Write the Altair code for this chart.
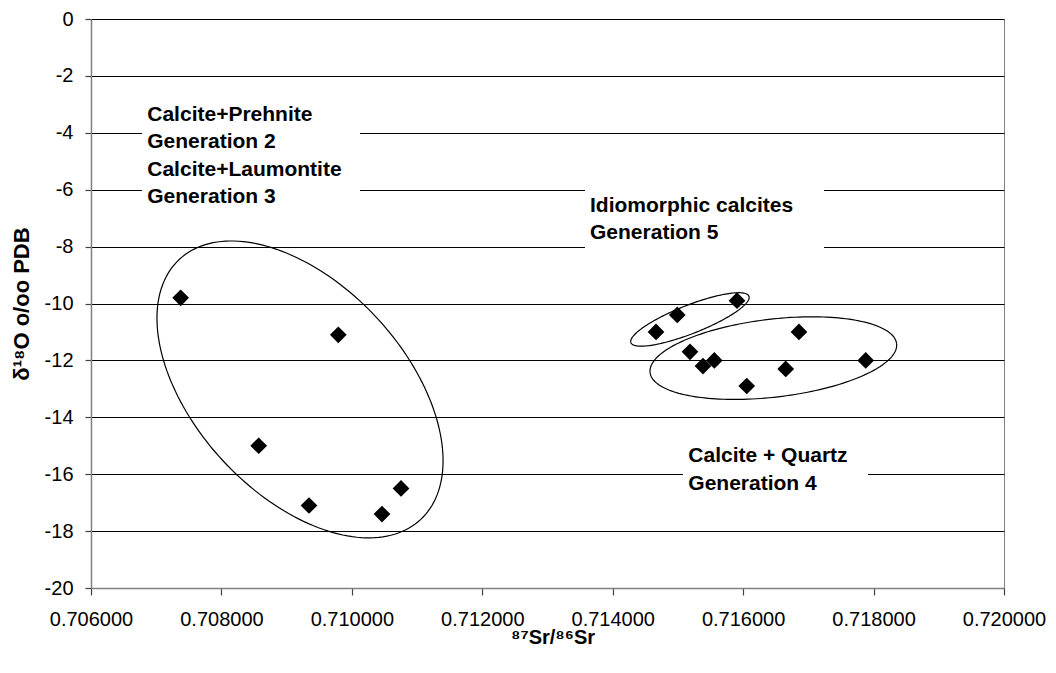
import altair as alt
import pandas as pd
import numpy as np

# ---- data ----
sr_ratio = [0.707375, 0.709792, 0.708572, 0.709343, 0.710462, 0.710754,
            0.714664, 0.714990, 0.715906,
            0.715185, 0.715384, 0.715558, 0.716055, 0.716653, 0.716856, 0.717879]
d18o = [-9.8, -11.1, -15.0, -17.1, -17.4, -16.5,
        -11.0, -10.4, -9.9,
        -11.7, -12.2, -12.0, -12.9, -12.3, -11.0, -12.0]

# annotation text lines (baselines in data units)
label_text = ["Calcite+Prehnite", "Generation 2", "Calcite+Laumontite", "Generation 3",
              "Idiomorphic calcites", "Generation 5",
              "Calcite + Quartz", "Generation 4"]
label_x = [0.706863] * 4 + [0.713652] * 2 + [0.715159] * 2
label_y = [-3.575, -4.545, -5.518, -6.478, -6.773, -7.743, -15.56, -16.56]

# white text-box backgrounds
box_x1 = [0.706782, 0.713575, 0.715078]
box_x2 = [0.710125, 0.717240, 0.717915]
box_y1 = [-2.85, -5.77, -14.80]
box_y2 = [-6.89, -8.19, -17.08]

# grouping ellipses: centre (data), semi-axes (px), tilt (deg)
ell_cx = [0.709205, 0.715184, 0.716463]
ell_cy = [-13.02, -10.56, -11.92]
ell_a = [177.4, 63.4, 124.1]
ell_b = [105.0, 14.2, 39.0]
ell_ang = [-47.2, 21.5, 6.67]

x_ticks = [0.706, 0.708, 0.710, 0.712, 0.714, 0.716, 0.718, 0.720]
y_ticks = [-20, -18, -16, -14, -12, -10, -8, -6, -4, -2, 0]

PLOT_W, PLOT_H = 913, 569
XMIN, XMAX, YMIN, YMAX = 0.706, 0.720, -20, 0

pts = pd.DataFrame({"x": sr_ratio, "y": d18o})
labels = pd.DataFrame({"x": label_x, "y": label_y, "text": label_text})
boxes = pd.DataFrame({"x": box_x1, "x2": box_x2, "y": box_y1, "y2": box_y2})

# ellipse outlines
px_x = PLOT_W / (XMAX - XMIN)
px_y = PLOT_H / (YMAX - YMIN)
rows = []
t = np.linspace(0, 2 * np.pi, 181)
for i in range(len(ell_cx)):
    th = np.radians(ell_ang[i])
    dx = ell_a[i] * np.cos(t) * np.cos(th) - ell_b[i] * np.sin(t) * np.sin(th)
    dy = ell_a[i] * np.cos(t) * np.sin(th) + ell_b[i] * np.sin(t) * np.cos(th)
    for k in range(len(t)):
        rows.append({"eid": i, "k": k, "x": ell_cx[i] + dx[k] / px_x, "y": ell_cy[i] + dy[k] / px_y})
ell = pd.DataFrame(rows)

FONT = "Liberation Sans"
xs = alt.Scale(domain=[XMIN, XMAX], nice=False, zero=False)
ys = alt.Scale(domain=[YMIN, YMAX], nice=False, zero=False)

x_axis = alt.Axis(values=x_ticks, format=".6f", grid=False, labelFont=FONT, labelFontSize=20,
                  labelColor="black", labelPadding=14, labelFlush=False, labelOverlap=False,
                  tickSize=7, tickColor="#404040", tickWidth=1.2,
                  domainColor="#808080", domainWidth=1.5,
                  title="⁸⁷Sr/⁸⁶Sr", titleFont=FONT, titleFontSize=20, titleFontWeight="bold",
                  titleColor="black", titleX=PLOT_W / 2 + 5, titleY=49,
                  titleAlign="center", titleBaseline="middle")
y_axis = alt.Axis(values=y_ticks, labelExpr="toString(datum.value)", grid=True,
                  gridColor="black", gridWidth=1, gridOpacity=1,
                  labelFont=FONT, labelFontSize=20, labelColor="black", labelPadding=12,
                  tickSize=6, tickColor="#404040", tickWidth=1.2,
                  domainColor="#808080", domainWidth=1.5,
                  title="δ¹⁸O o/oo PDB", titleFont=FONT, titleFontSize=22, titleFontWeight="bold",
                  titleColor="black", titleAngle=270, titleX=-70, titleY=PLOT_H / 2,
                  titleAlign="center", titleBaseline="middle")

X = lambda f="x": alt.X(f"{f}:Q", scale=xs, axis=x_axis)
Y = lambda f="y": alt.Y(f"{f}:Q", scale=ys, axis=y_axis)

rect_layer = alt.Chart(boxes).mark_rect(color="white").encode(
    x=X(), x2="x2:Q", y=Y(), y2="y2:Q")

ell_layer = alt.Chart(ell).mark_line(color="black", strokeWidth=1.2).encode(
    x=X(), y=Y(), detail="eid:N", order="k:Q")

pt_layer = alt.Chart(pts).mark_point(shape="diamond", filled=True, color="black",
                                     size=280, opacity=1).encode(x=X(), y=Y())

txt_layer = alt.Chart(labels).mark_text(align="left", baseline="alphabetic", font=FONT,
                                        fontSize=21, fontWeight="bold", color="black").encode(
    x=X(), y=Y(), text="text:N")

chart = alt.layer(rect_layer, ell_layer, pt_layer, txt_layer).properties(
    width=PLOT_W, height=PLOT_H,
    autosize=alt.AutoSizeParams(type="none"),
    padding={"left": 83, "top": 11, "right": 44, "bottom": 77},
    background="white",
).configure_view(stroke="#808080", strokeWidth=1)

chart.save("out.html", embed_options={"renderer": "svg", "actions": False})
